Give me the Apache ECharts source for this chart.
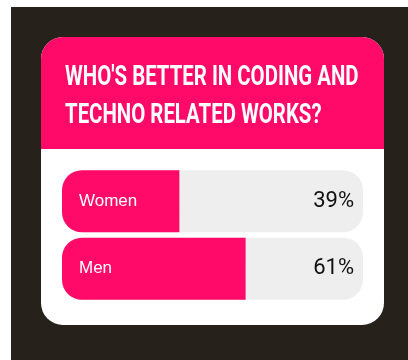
<!DOCTYPE html>
<html><head><meta charset="utf-8">
<script src="https://cdn.jsdelivr.net/npm/echarts@6/dist/echarts.min.js"></script>
<style>
html,body{margin:0;padding:0;background:#fff;}
#c{position:absolute;left:0;top:0;width:408px;height:360px;}
</style></head>
<body><div id="c"></div>
<script>
const titleLines = ["WHO'S BETTER IN CODING AND", "TECHNO RELATED WORKS?"];
const categories = ['Women', 'Men'];
const values = [39, 61];
const valueLabels = ['39%', '61%'];

const chart = echarts.init(document.getElementById('c'), null, {renderer: 'canvas'});
const pink = '#ff0a68';
const titleStyle = {fill: '#ffffff', fontFamily: 'Roboto', fontWeight: 'bold', fontSize: 27, textVerticalAlign: 'top'};
chart.setOption({
  backgroundColor: 'transparent',
  animation: false,
  graphic: [
    {type: 'rect', z: -10, shape: {x: 11, y: 7, width: 397, height: 353}, style: {fill: '#26211a'}},
    {type: 'rect', z: -9, shape: {x: 41, y: 37, width: 343, height: 288, r: 22}, style: {fill: '#ffffff'}},
    {type: 'rect', z: -8, shape: {x: 41, y: 37, width: 343, height: 112, r: [22, 22, 0, 0]}, style: {fill: pink}},
    {type: 'text', z: 5, x: 65, y: 65, scaleX: 0.755, style: Object.assign({text: titleLines[0]}, titleStyle)},
    {type: 'text', z: 5, x: 65, y: 103, scaleX: 0.755, style: Object.assign({text: titleLines[1]}, titleStyle)}
  ],
  grid: {left: 62, right: 45, top: 167.5, height: 135, containLabel: false},
  xAxis: {type: 'value', min: 0, max: 100, show: false},
  yAxis: [
    {type: 'category', data: categories, inverse: true, z: 20,
     axisLine: {show: false}, axisTick: {show: false},
     axisLabel: {inside: true, margin: 17, color: '#ffffff', fontSize: 17,
       fontFamily: 'Liberation Sans'}},
    {type: 'category', data: valueLabels, inverse: true, position: 'right', z: 20,
     axisLine: {show: false}, axisTick: {show: false},
     axisLabel: {inside: true, margin: 9, color: '#111111', fontSize: 22,
       fontFamily: 'Roboto'}}
  ],
  series: [{
    type: 'bar', data: values, barWidth: 62, yAxisIndex: 0,
    showBackground: true,
    backgroundStyle: {color: '#eeeeee', borderRadius: 20},
    itemStyle: {color: pink, borderRadius: [20, 0, 0, 20]},
    z: 2
  }]
});
</script></body></html>
